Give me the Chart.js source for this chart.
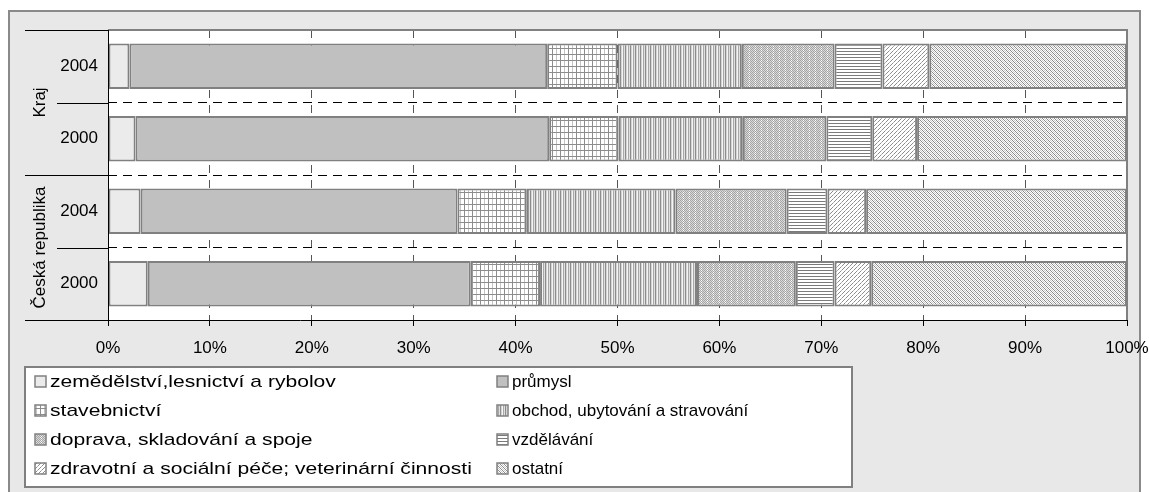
<!DOCTYPE html>
<html>
<head>
<meta charset="utf-8">
<script src="https://cdn.jsdelivr.net/npm/chart.js@4.4.1/dist/chart.umd.min.js"></script>
<style>
body { margin: 0; background: #fff; }
#wrap { width: 1149px; height: 492px; }
</style>
</head>
<body>
<div id="wrap"><canvas id="ch" width="1149" height="492"></canvas></div>
<script>
// kategorie (shora dolu)
var years = ['2004', '2000', '2004', '2000'];
var groups = ['Kraj', 'Kraj', 'Česká republika', 'Česká republika'];

// podíly odvětví v %
var zemedelstvi = [2.1, 2.7, 3.2, 3.9];
var prumysl = [41.0, 40.6, 31.1, 31.7];
var stavebnictvi = [6.9, 6.8, 6.8, 6.8];
var obchod = [12.2, 12.2, 14.6, 15.4];
var doprava = [9.1, 8.2, 10.9, 9.7];
var vzdelavani = [4.7, 4.5, 4.0, 3.8];
var zdravotni = [4.6, 4.4, 3.8, 3.6];
var ostatni = [19.4, 20.6, 25.6, 25.1];

var seriesNames = [
  'zemědělství,lesnictví a rybolov',
  'průmysl',
  'stavebnictví',
  'obchod, ubytování a stravování',
  'doprava, skladování a spoje',
  'vzdělávání',
  'zdravotní a sociální péče; veterinární činnosti',
  'ostatní'
];

var FONT = '"Liberation Sans", Arial, sans-serif';

// vzorky výplní (černobílé šrafy jako v Excelu)
function makePattern(w, h, fn) {
  var c = document.createElement('canvas');
  c.width = w; c.height = h;
  var g = c.getContext('2d');
  g.fillStyle = '#fff';
  g.fillRect(0, 0, w, h);
  fn(g);
  return c.getContext('2d').createPattern(c, 'repeat');
}
function px(g, x, y, col) { g.fillStyle = col; g.fillRect(x, y, 1, 1); }

var fills = [
  '#ebebeb',
  '#c0c0c0',
  makePattern(8, 6, function (g) {
    g.fillStyle = '#8c8c8c'; g.fillRect(0, 0, 1, 6); g.fillRect(0, 0, 8, 1);
    g.fillStyle = '#c4c4c4'; g.fillRect(4, 1, 1, 5);
  }),
  makePattern(5, 1, function (g) {
    px(g, 0, 0, '#8c8c8c'); px(g, 1, 0, '#d4d4d4'); px(g, 2, 0, '#f4f4f4');
    px(g, 3, 0, '#a8a8a8'); px(g, 4, 0, '#e0e0e0');
  }),
  makePattern(6, 4, function (g) {
    for (var y = 0; y < 4; y++) for (var x = 0; x < 6; x++) {
      px(g, x, y, (x + y) % 2 ? '#dadada' : '#a4a4a4');
    }
    px(g, 5, 0, '#fff'); px(g, 5, 2, '#fff'); px(g, 4, 1, '#f0f0f0');
  }),
  makePattern(1, 3, function (g) {
    px(g, 0, 0, '#7a7a7a');
  }),
  makePattern(4, 4, function (g) {
    px(g, 3, 0, '#8c8c8c'); px(g, 2, 1, '#8c8c8c'); px(g, 1, 2, '#b4b4b4'); px(g, 0, 3, '#8c8c8c');
  }),
  makePattern(4, 4, function (g) {
    px(g, 0, 0, '#8a8a8a'); px(g, 1, 1, '#8a8a8a'); px(g, 2, 2, '#8a8a8a'); px(g, 3, 3, '#8a8a8a');
    px(g, 2, 0, '#c8c8c8'); px(g, 3, 1, '#c8c8c8'); px(g, 0, 2, '#c8c8c8'); px(g, 1, 3, '#c8c8c8');
  })
];

var seriesData = [zemedelstvi, prumysl, stavebnictvi, obchod, doprava, vzdelavani, zdravotni, ostatni];

var datasets = seriesData.map(function (d, i) {
  return {
    label: seriesNames[i],
    data: d,
    backgroundColor: fills[i],
    borderColor: '#808080',
    borderWidth: 2,
    borderSkipped: false,
    barPercentage: 1,
    categoryPercentage: 0.63
  };
});

var framePlugin = {
  id: 'frame',
  beforeDraw: function (chart) {
    var c = chart.ctx, a = chart.chartArea;
    c.save();
    c.fillStyle = '#fff';
    c.fillRect(0, 0, chart.width, chart.height);
    c.fillStyle = '#e8e8e8';
    c.fillRect(9, 11, 1131, 500);
    c.strokeStyle = '#8a8a8a';
    c.lineWidth = 2;
    c.strokeRect(9, 11, 1131, 500);
    c.fillStyle = '#fff';
    c.fillRect(a.left, a.top, a.right - a.left, a.bottom - a.top);
    c.restore();
  },
  afterDraw: function (chart) {
    var c = chart.ctx, a = chart.chartArea, ys = chart.scales.y;
    c.save();
    // rámeček plochy grafu
    c.strokeStyle = '#808080';
    c.lineWidth = 2;
    c.beginPath();
    c.moveTo(a.left, a.top); c.lineTo(a.right, a.top); c.lineTo(a.right, a.bottom);
    c.stroke();
    // osy a oddělovače kategorií
    c.strokeStyle = '#000';
    c.lineWidth = 1;
    c.beginPath();
    c.moveTo(a.left + 0.5, a.top); c.lineTo(a.left + 0.5, a.bottom + 6);
    c.moveTo(25, a.top + 0.5); c.lineTo(a.left, a.top + 0.5);
    c.moveTo(25, a.bottom + 0.5); c.lineTo(a.right, a.bottom + 0.5);
    for (var i = 0; i < years.length - 1; i++) {
      var y = Math.round((ys.getPixelForValue(i) + ys.getPixelForValue(i + 1)) / 2) + 0.5;
      var x0 = groups[i] !== groups[i + 1] ? 25 : 57;
      c.moveTo(x0, y); c.lineTo(a.left, y);
    }
    c.stroke();
    // popisky skupin
    c.fillStyle = '#000';
    c.font = '17px ' + FONT;
    c.textAlign = 'center';
    c.textBaseline = 'middle';
    var seen = {};
    groups.forEach(function (g) {
      if (seen[g]) return;
      var ids = [];
      groups.forEach(function (h, j) { if (h === g) ids.push(j); });
      var first = ys.getPixelForValue(ids[0]), last = ys.getPixelForValue(ids[ids.length - 1]);
      seen[g] = true;
      c.save();
      c.translate(40, (first + last) / 2);
      c.rotate(-Math.PI / 2);
      c.fillText(g, 0, 0);
      c.restore();
    });
    // legenda
    var lx = 25, ly = 367, lw = 827, lh = 120;
    c.fillStyle = '#fff';
    c.fillRect(lx, ly, lw, lh);
    c.strokeStyle = '#808080';
    c.lineWidth = 2;
    c.strokeRect(lx, ly, lw, lh);
    c.font = '17px ' + FONT;
    c.textAlign = 'left';
    c.textBaseline = 'middle';
    var colX = [35, 497], rowY = [381, 410, 439, 468];
    var stretch = [1.24, 1];   // první sloupec legendy je v předloze širší
    chart.data.datasets.forEach(function (ds, k) {
      var col = k % 2;
      var sx = colX[col], sy = rowY[Math.floor(k / 2)];
      c.fillStyle = ds.backgroundColor;
      c.fillRect(sx, sy - 5, 11, 11);
      c.strokeStyle = '#808080';
      c.lineWidth = 1.5;
      c.strokeRect(sx, sy - 5, 11, 11);
      c.fillStyle = '#000';
      c.save();
      c.translate(sx + 15, sy + 1);
      c.scale(stretch[col], 1);
      c.fillText(ds.label, 0, 0);
      c.restore();
    });
    c.restore();
  }
};

new Chart(document.getElementById('ch').getContext('2d'), {
  type: 'bar',
  data: { labels: years, datasets: datasets },
  options: {
    indexAxis: 'y',
    responsive: false,
    animation: false,
    layout: { padding: { left: 25, right: 22, top: 30, bottom: 132 } },
    plugins: { legend: { display: false }, tooltip: { enabled: false } },
    scales: {
      x: {
        stacked: true,
        min: 0,
        max: 100,
        afterFit: function (s) { s.height = 40; s.paddingRight = 0; s.paddingLeft = 0; },
        border: { display: false, dash: [8, 7] },
        grid: {
          drawTicks: true,
          tickLength: 6,
          tickColor: '#000',
          tickBorderDash: [],
          color: function (ctx) { return (ctx.index === 0 || ctx.index === 10) ? 'rgba(0,0,0,0)' : '#555'; }
        },
        ticks: {
          stepSize: 10,
          autoSkip: false,
          maxRotation: 0,
          padding: 12,
          color: '#000',
          font: { family: FONT, size: 17 },
          callback: function (v) { return v + '%'; }
        }
      },
      y: {
        stacked: true,
        afterFit: function (s) { s.width = 83; },
        border: { display: false, dash: [9, 6] },
        grid: {
          drawTicks: false,
          color: function (ctx) { return (ctx.index === 0 || ctx.index === years.length) ? 'rgba(0,0,0,0)' : '#000'; }
        },
        ticks: {
          padding: 10,
          color: '#000',
          font: { family: FONT, size: 17 }
        }
      }
    }
  },
  plugins: [framePlugin]
});
</script>
</body>
</html>
